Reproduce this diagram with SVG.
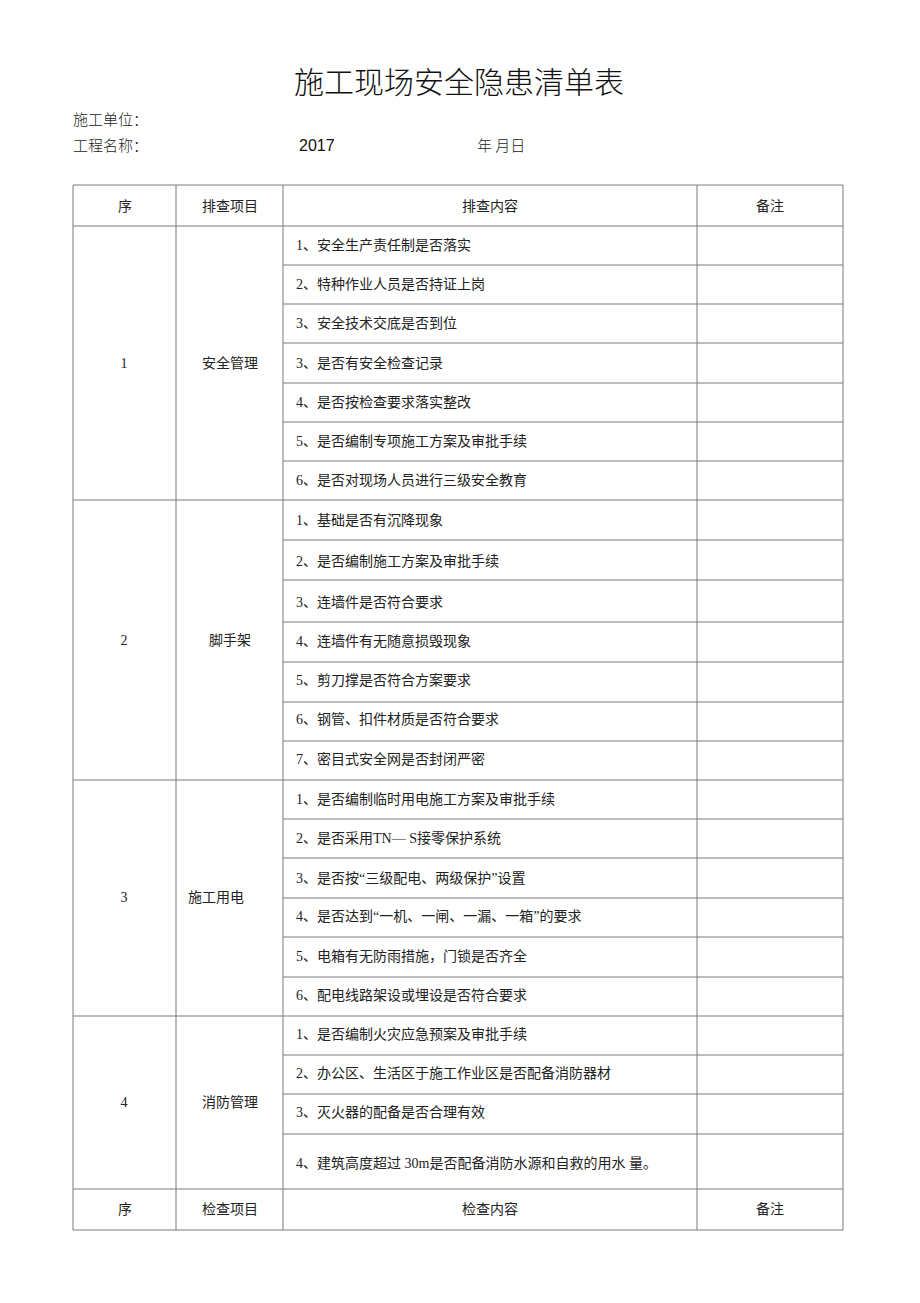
<svg xmlns="http://www.w3.org/2000/svg" width="920" height="1303" viewBox="0 0 920 1303">
<style>
.t{font-family:"Liberation Serif","Noto Sans CJK SC",serif;font-size:14px;fill:#222}
.c{text-anchor:middle}
.h{font-family:"Noto Sans CJK SC",sans-serif;font-size:30px;font-weight:300;fill:#111;text-anchor:middle}
.m{font-family:"Noto Sans CJK SC",sans-serif;font-size:15px;font-weight:300;fill:#222}
.y{font-family:"Liberation Sans",sans-serif;font-size:16px;fill:#111}
.g line{stroke:#7a7a7a;stroke-width:1}
</style>
<rect width="920" height="1303" fill="#fff"/>
<g id="title">
<text class="h" x="459" y="93">施工现场安全隐患清单表</text>
<text class="m" x="73" y="125">施工单位：</text>
<text class="m" x="73" y="151">工程名称：</text>
<text class="y" x="299" y="151">2017</text>
<text class="m" x="477" y="151">年  月日</text>
</g>
<g id="grid" class="g">
<line x1="73" y1="185" x2="843" y2="185"/>
<line x1="73" y1="226" x2="843" y2="226"/>
<line x1="73" y1="500" x2="843" y2="500"/>
<line x1="73" y1="780" x2="843" y2="780"/>
<line x1="73" y1="1016" x2="843" y2="1016"/>
<line x1="73" y1="1189" x2="843" y2="1189"/>
<line x1="73" y1="1230" x2="843" y2="1230"/>
<line x1="283" y1="265" x2="843" y2="265"/>
<line x1="283" y1="304" x2="843" y2="304"/>
<line x1="283" y1="343" x2="843" y2="343"/>
<line x1="283" y1="383" x2="843" y2="383"/>
<line x1="283" y1="422" x2="843" y2="422"/>
<line x1="283" y1="461" x2="843" y2="461"/>
<line x1="283" y1="540" x2="843" y2="540"/>
<line x1="283" y1="580" x2="843" y2="580"/>
<line x1="283" y1="622" x2="843" y2="622"/>
<line x1="283" y1="662" x2="843" y2="662"/>
<line x1="283" y1="702" x2="843" y2="702"/>
<line x1="283" y1="741" x2="843" y2="741"/>
<line x1="283" y1="819" x2="843" y2="819"/>
<line x1="283" y1="858" x2="843" y2="858"/>
<line x1="283" y1="898" x2="843" y2="898"/>
<line x1="283" y1="937" x2="843" y2="937"/>
<line x1="283" y1="977" x2="843" y2="977"/>
<line x1="283" y1="1055" x2="843" y2="1055"/>
<line x1="283" y1="1094" x2="843" y2="1094"/>
<line x1="283" y1="1134" x2="843" y2="1134"/>
<line x1="73" y1="185" x2="73" y2="1230"/>
<line x1="176" y1="185" x2="176" y2="1230"/>
<line x1="283" y1="185" x2="283" y2="1230"/>
<line x1="697" y1="185" x2="697" y2="1230"/>
<line x1="843" y1="185" x2="843" y2="1230"/>
</g>
<g id="header">
<text class="t c" x="125" y="211">序</text>
<text class="t c" x="230" y="211">排查项目</text>
<text class="t c" x="490" y="211">排查内容</text>
<text class="t c" x="770" y="211">备注</text>
</g>
<g id="sec1">
<text class="t c" x="124" y="368">1</text>
<text class="t c" x="230" y="368">安全管理</text>
<text class="t" x="296" y="250">1、安全生产责任制是否落实</text>
<text class="t" x="296" y="289">2、特种作业人员是否持证上岗</text>
<text class="t" x="296" y="328">3、安全技术交底是否到位</text>
<text class="t" x="296" y="368">3、是否有安全检查记录</text>
<text class="t" x="296" y="407">4、是否按检查要求落实整改</text>
<text class="t" x="296" y="446">5、是否编制专项施工方案及审批手续</text>
<text class="t" x="296" y="485">6、是否对现场人员进行三级安全教育</text>
</g>
<g id="sec2">
<text class="t c" x="124" y="645">2</text>
<text class="t c" x="230" y="645">脚手架</text>
<text class="t" x="296" y="525">1、基础是否有沉降现象</text>
<text class="t" x="296" y="566">2、是否编制施工方案及审批手续</text>
<text class="t" x="296" y="607">3、连墙件是否符合要求</text>
<text class="t" x="296" y="646">4、连墙件有无随意损毁现象</text>
<text class="t" x="296" y="685">5、剪刀撑是否符合方案要求</text>
<text class="t" x="296" y="724">6、钢管、扣件材质是否符合要求</text>
<text class="t" x="296" y="764">7、密目式安全网是否封闭严密</text>
</g>
<g id="sec3">
<text class="t c" x="124" y="902">3</text>
<text class="t c" x="216" y="902">施工用电</text>
<text class="t" x="296" y="804">1、是否编制临时用电施工方案及审批手续</text>
<text class="t" x="296" y="843">2、是否采用TN—  S接零保护系统</text>
<text class="t" x="296" y="883">3、是否按“三级配电、两级保护”设置</text>
<text class="t" x="296" y="921">4、是否达到“一机、一闸、一漏、一箱”的要求</text>
<text class="t" x="296" y="961">5、电箱有无防雨措施，门锁是否齐全</text>
<text class="t" x="296" y="1000">6、配电线路架设或埋设是否符合要求</text>
</g>
<g id="sec4">
<text class="t c" x="124" y="1107">4</text>
<text class="t c" x="230" y="1107">消防管理</text>
<text class="t" x="296" y="1039">1、是否编制火灾应急预案及审批手续</text>
<text class="t" x="296" y="1078">2、办公区、生活区于施工作业区是否配备消防器材</text>
<text class="t" x="296" y="1117">3、灭火器的配备是否合理有效</text>
<text class="t" x="296" y="1168">4、建筑高度超过 30m是否配备消防水源和自救的用水 量。</text>
</g>
<g id="footer">
<text class="t c" x="125" y="1214">序</text>
<text class="t c" x="230" y="1214">检查项目</text>
<text class="t c" x="490" y="1214">检查内容</text>
<text class="t c" x="770" y="1214">备注</text>
</g>
</svg>
